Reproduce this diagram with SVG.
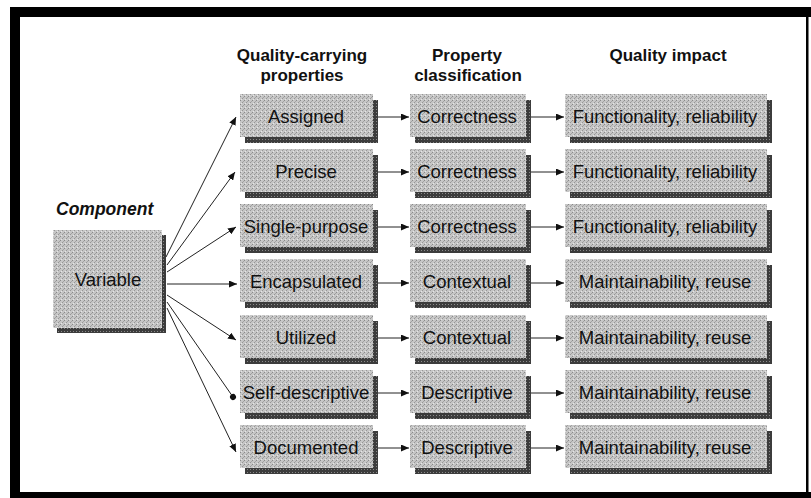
<svg xmlns="http://www.w3.org/2000/svg" width="811" height="498" viewBox="0 0 811 498">
<defs>
<style>
.box{fill:url(#tex);}
.sh{fill:url(#shtex);}
.lbl{font-family:"Liberation Sans",Arial,sans-serif;font-size:18.5px;fill:#111;text-anchor:middle;}
.hdr{font-family:"Liberation Sans",Arial,sans-serif;font-size:17px;font-weight:bold;fill:#111;text-anchor:middle;}
.conn line{stroke:#222;stroke-width:1;}
.arr{marker-end:url(#ah);}
.dot{marker-end:url(#dt);}
</style>
<pattern id="tex" width="4" height="4" patternUnits="userSpaceOnUse">
<rect width="4" height="4" fill="#c6c6c6"/>
<rect x="0" y="0" width="1" height="1" fill="#8a8a8a"/>
<rect x="2" y="2" width="1" height="1" fill="#969696"/>
<rect x="1" y="3" width="1" height="1" fill="#e6e6e6"/>
<rect x="3" y="1" width="1" height="1" fill="#a4a4a4"/>
</pattern>
<pattern id="shtex" width="3" height="3" patternUnits="userSpaceOnUse">
<rect width="3" height="3" fill="#3c3c3c"/>
<rect x="1" y="1" width="1" height="1" fill="#8a8a8a"/>
</pattern>
<marker id="ah" markerUnits="userSpaceOnUse" markerWidth="8" markerHeight="7" refX="8" refY="3.5" orient="auto">
<path d="M0,0 L8,3.5 L0,7 z" fill="#111"/>
</marker>
<marker id="dt" markerUnits="userSpaceOnUse" markerWidth="8" markerHeight="8" refX="4" refY="4" orient="auto">
<circle cx="4" cy="4" r="3" fill="#111"/>
</marker>
</defs>
<rect width="811" height="498" fill="#fff"/>
<g id="frame" fill="#000">
<rect x="10" y="7" width="801" height="10"/>
<rect x="10" y="7" width="10" height="491"/>
<rect x="10" y="492" width="801" height="6"/>
<rect x="806" y="7" width="2.5" height="491"/>
</g>
<g id="headers">
<text class="hdr" x="302" y="61">Quality-carrying</text>
<text class="hdr" x="302" y="81">properties</text>
<text class="hdr" x="467" y="61">Property</text>
<text class="hdr" x="468" y="81">classification</text>
<text class="hdr" x="668" y="61">Quality impact</text>
<text x="56" y="215" font-family="'Liberation Sans',Arial,sans-serif" font-size="17.5" font-weight="bold" font-style="italic" fill="#111">Component</text>
</g>
<g id="connectors" class="conn">
<line class="arr" x1="166" y1="257" x2="236" y2="117"/>
<line class="arr" x1="167" y1="265" x2="235" y2="172"/>
<line class="arr" x1="167" y1="272" x2="236" y2="227"/>
<line class="arr" x1="167" y1="284" x2="237" y2="284"/>
<line class="arr" x1="167" y1="295" x2="236" y2="340"/>
<line class="dot" x1="167" y1="302" x2="233" y2="397"/>
<line class="arr" x1="167" y1="308" x2="236" y2="452"/>
<line class="arr" x1="378" y1="117" x2="409" y2="117"/>
<line class="arr" x1="378" y1="172" x2="409" y2="172"/>
<line class="arr" x1="378" y1="227" x2="409" y2="227"/>
<line class="arr" x1="378" y1="283" x2="409" y2="283"/>
<line class="arr" x1="378" y1="338" x2="409" y2="338"/>
<line class="arr" x1="378" y1="393" x2="409" y2="393"/>
<line class="arr" x1="378" y1="448" x2="409" y2="448"/>
<line class="arr" x1="531" y1="117" x2="564" y2="117"/>
<line class="arr" x1="531" y1="172" x2="564" y2="172"/>
<line class="arr" x1="531" y1="227" x2="564" y2="227"/>
<line class="arr" x1="531" y1="283" x2="564" y2="283"/>
<line class="arr" x1="531" y1="338" x2="564" y2="338"/>
<line class="arr" x1="531" y1="393" x2="564" y2="393"/>
<line class="arr" x1="531" y1="448" x2="564" y2="448"/>
</g>
<g id="n-variable">
<rect class="sh" x="57" y="235" width="109" height="98"/>
<rect class="box" x="53" y="230" width="109" height="98"/>
<text class="lbl" x="108" y="286">Variable</text>
</g>
<g id="n-assigned"><rect class="sh" x="245" y="100" width="133" height="43"/><rect class="box" x="240" y="94" width="133" height="43"/><text class="lbl" x="306" y="123">Assigned</text></g>
<g id="n-precise"><rect class="sh" x="245" y="155" width="133" height="43"/><rect class="box" x="240" y="149" width="133" height="43"/><text class="lbl" x="306" y="178">Precise</text></g>
<g id="n-single"><rect class="sh" x="245" y="210" width="133" height="43"/><rect class="box" x="240" y="204" width="133" height="43"/><text class="lbl" x="306" y="233">Single-purpose</text></g>
<g id="n-encap"><rect class="sh" x="245" y="265" width="133" height="43"/><rect class="box" x="240" y="259" width="133" height="43"/><text class="lbl" x="306" y="288">Encapsulated</text></g>
<g id="n-utilized"><rect class="sh" x="245" y="321" width="133" height="43"/><rect class="box" x="240" y="315" width="133" height="43"/><text class="lbl" x="306" y="344">Utilized</text></g>
<g id="n-selfdesc"><rect class="sh" x="245" y="376" width="133" height="43"/><rect class="box" x="240" y="370" width="133" height="43"/><text class="lbl" x="306" y="399">Self-descriptive</text></g>
<g id="n-documented"><rect class="sh" x="245" y="431" width="133" height="43"/><rect class="box" x="240" y="425" width="133" height="43"/><text class="lbl" x="306" y="454">Documented</text></g>
<g id="c-1"><rect class="sh" x="415" y="100" width="116" height="43"/><rect class="box" x="410" y="94" width="116" height="43"/><text class="lbl" x="467" y="123">Correctness</text></g>
<g id="c-2"><rect class="sh" x="415" y="155" width="116" height="43"/><rect class="box" x="410" y="149" width="116" height="43"/><text class="lbl" x="467" y="178">Correctness</text></g>
<g id="c-3"><rect class="sh" x="415" y="210" width="116" height="43"/><rect class="box" x="410" y="204" width="116" height="43"/><text class="lbl" x="467" y="233">Correctness</text></g>
<g id="c-4"><rect class="sh" x="415" y="265" width="116" height="43"/><rect class="box" x="410" y="259" width="116" height="43"/><text class="lbl" x="467" y="288">Contextual</text></g>
<g id="c-5"><rect class="sh" x="415" y="321" width="116" height="43"/><rect class="box" x="410" y="315" width="116" height="43"/><text class="lbl" x="467" y="344">Contextual</text></g>
<g id="c-6"><rect class="sh" x="415" y="376" width="116" height="43"/><rect class="box" x="410" y="370" width="116" height="43"/><text class="lbl" x="467" y="399">Descriptive</text></g>
<g id="c-7"><rect class="sh" x="415" y="431" width="116" height="43"/><rect class="box" x="410" y="425" width="116" height="43"/><text class="lbl" x="467" y="454">Descriptive</text></g>
<g id="q-1"><rect class="sh" x="570" y="100" width="202" height="43"/><rect class="box" x="565" y="94" width="202" height="43"/><text class="lbl" x="665" y="123">Functionality, reliability</text></g>
<g id="q-2"><rect class="sh" x="570" y="155" width="202" height="43"/><rect class="box" x="565" y="149" width="202" height="43"/><text class="lbl" x="665" y="178">Functionality, reliability</text></g>
<g id="q-3"><rect class="sh" x="570" y="210" width="202" height="43"/><rect class="box" x="565" y="204" width="202" height="43"/><text class="lbl" x="665" y="233">Functionality, reliability</text></g>
<g id="q-4"><rect class="sh" x="570" y="265" width="202" height="43"/><rect class="box" x="565" y="259" width="202" height="43"/><text class="lbl" x="665" y="288">Maintainability, reuse</text></g>
<g id="q-5"><rect class="sh" x="570" y="321" width="202" height="43"/><rect class="box" x="565" y="315" width="202" height="43"/><text class="lbl" x="665" y="344">Maintainability, reuse</text></g>
<g id="q-6"><rect class="sh" x="570" y="376" width="202" height="43"/><rect class="box" x="565" y="370" width="202" height="43"/><text class="lbl" x="665" y="399">Maintainability, reuse</text></g>
<g id="q-7"><rect class="sh" x="570" y="431" width="202" height="43"/><rect class="box" x="565" y="425" width="202" height="43"/><text class="lbl" x="665" y="454">Maintainability, reuse</text></g>
</svg>
